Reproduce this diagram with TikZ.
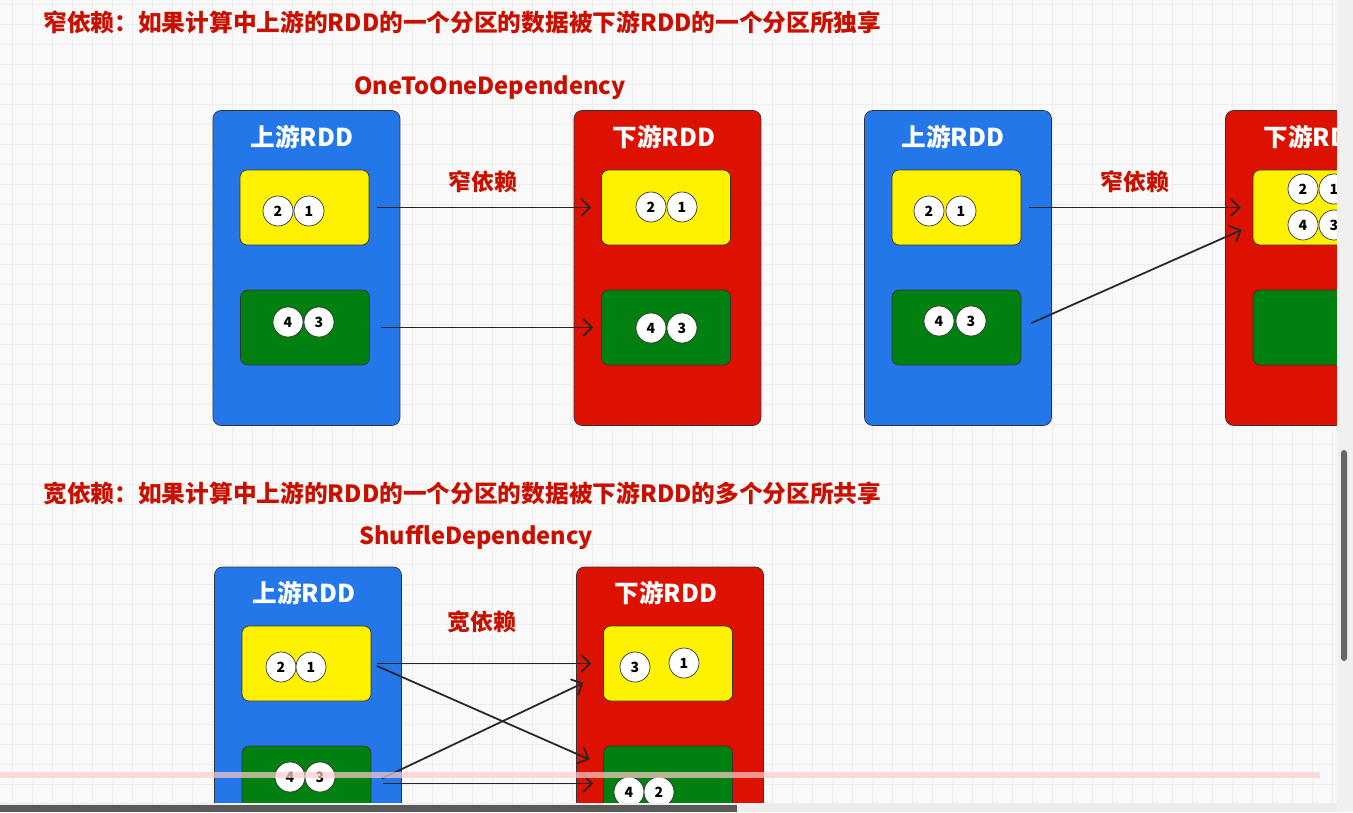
\documentclass[tikz,border=0pt]{standalone}
\usepackage{fontspec}
\usetikzlibrary{arrows.meta}
\newfontfamily\cjk{Noto Sans CJK SC}
\definecolor{rddblue}{RGB}{36,119,232}
\definecolor{rddred}{RGB}{221,17,0}
\definecolor{partyellow}{RGB}{255,242,0}
\definecolor{partgreen}{RGB}{0,128,16}
\definecolor{txtred}{RGB}{200,16,0}
\definecolor{canvas}{RGB}{249,249,249}
\definecolor{gridline}{RGB}{238,238,238}
\begin{document}
\begin{tikzpicture}[x=0.02cm, y=-0.02cm, every node/.style={font=\cjk\bfseries},
  rdd/.style={draw=black!80, rounded corners=0.16cm, minimum width=3.74cm, minimum height=6.3cm, inner sep=0pt},
  part/.style={draw=black!80, rounded corners=0.14cm, minimum width=2.58cm, minimum height=1.5cm, inner sep=0pt},
  rec/.style={draw=black!80, circle, fill=white, minimum size=0.6cm, inner sep=0pt, font=\cjk\bfseries\fontsize{8}{8}\selectfont},
  rddname/.style={text=white, inner sep=0pt, font=\cjk\bfseries\fontsize{14}{14}\selectfont},
  head/.style={text=txtred, anchor=west, inner sep=0pt, font=\cjk\bfseries\fontsize{13.5}{13.5}\selectfont},
  depname/.style={text=txtred, anchor=west, inner sep=0pt, font=\cjk\bfseries\fontsize{13.4}{13.4}\selectfont},
  deplbl/.style={text=txtred, inner sep=0pt, font=\cjk\bfseries\fontsize{13}{13}\selectfont},
  dep/.style={draw=black!85, line width=1pt, -{Straight Barb[length=5pt,width=10pt]}}]

\useasboundingbox (0,0) rectangle (1353,812);

\begin{scope}
\clip (0,0) rectangle (1337,803);
\fill[canvas] (0,0) rectangle (1337,803);
\foreach \gx in {12,32,...,1332} \draw[gridline] (\gx,0) -- (\gx,803);
\foreach \gy in {4,24,...,800} \draw[gridline] (0,\gy) -- (1337,\gy);

% narrow dependency
\node[head] (t1) at (43,22) {窄依赖：如果计算中上游的RDD的一个分区的数据被下游RDD的一个分区所独享};
\node[depname] (o1) at (354,88) {OneToOneDependency};

\node[rdd, fill=rddblue] (u1) at (306.5,268) {}; \node[rddname] (u1t) at (302,137) {上游RDD};
\node[part, fill=partyellow] (u1y) at (304.5,207.5) {};
\node[part, fill=partgreen] (u1g) at (305,327.5) {};
\node[rec] (a1) at (278,211) {2}; \node[rec] (a2) at (309,211) {1};
\node[rec] (a3) at (288,322) {4}; \node[rec] (a4) at (319,322) {3};

\node[rdd, fill=rddred] (d1) at (667.5,268) {}; \node[rddname] (d1t) at (664,137) {下游RDD};
\node[part, fill=partyellow] (d1y) at (666,207.5) {};
\node[part, fill=partgreen] (d1g) at (666,327.5) {};
\node[rec] (b1) at (651,207) {2}; \node[rec] (b2) at (682,207) {1};
\node[rec] (b3) at (651,328) {4}; \node[rec] (b4) at (682,328) {3};

\node[deplbl] (n1) at (483,182) {窄依赖};
\draw[dep, shorten <=0.16cm, shorten >=0.2cm] (u1y) -- (d1y);
\draw[dep, shorten <=0.22cm, shorten >=0.16cm] (u1g) -- (d1g);

\node[rdd, fill=rddblue] (u2) at (958,268) {}; \node[rddname] (u2t) at (953,137) {上游RDD};
\node[part, fill=partyellow] (u2y) at (956.5,207.5) {};
\node[part, fill=partgreen] (u2g) at (956.5,327.5) {};
\node[rec] (c1) at (929,211) {2}; \node[rec] (c2) at (961,211) {1};
\node[rec] (c3) at (939,321) {4}; \node[rec] (c4) at (971,321) {3};

\node[rdd, fill=rddred] (d2) at (1319,268) {}; \node[rddname] (d2t) at (1315,137) {下游RDD};
\node[part, fill=partyellow] (d2y) at (1317.5,207.5) {};
\node[part, fill=partgreen] (d2g) at (1317.5,327.5) {};
\node[rec] (e1) at (1303,189) {2}; \node[rec] (e2) at (1334,189) {1};
\node[rec] (e3) at (1303,225) {4}; \node[rec] (e4) at (1334,225) {3};

\node[deplbl] (n2) at (1135,182) {窄依赖};
\draw[dep, shorten <=0.16cm, shorten >=0.24cm] (u2y) -- (d2y);
\draw[dep, shorten <=0.22cm, shorten >=0.24cm] (u2g.east) -- ([yshift=-0.35cm]d2y.west);

% wide dependency
\node[head] (t2) at (43,493) {宽依赖：如果计算中上游的RDD的一个分区的数据被下游RDD的多个分区所共享};
\node[depname] (o2) at (359,537) {ShuffleDependency};

\node[rdd, fill=rddblue] (u3) at (308,724.5) {}; \node[rddname] (u3t) at (304,593) {上游RDD};
\node[part, fill=partyellow] (u3y) at (306.5,663.5) {};
\node[part, fill=partgreen] (u3g) at (306.5,783.5) {};
\node[rec] (f1) at (281,667) {2}; \node[rec] (f2) at (311,667) {1};
\node[rec] (f3) at (290,777) {4}; \node[rec] (f4) at (320,777) {3};

\node[rdd, fill=rddred] (d3) at (670,724.5) {}; \node[rddname] (d3t) at (666,593) {下游RDD};
\node[part, fill=partyellow] (d3y) at (668,663.5) {};
\node[part, fill=partgreen] (d3g) at (668,783.5) {};
\node[rec] (g1) at (635,667) {3}; \node[rec] (g2) at (684,663) {1};
\node[rec] (g3) at (629,792) {4}; \node[rec] (g4) at (659,792) {2};

\node[deplbl] (n3) at (482,622) {宽依赖};
\draw[dep, shorten <=0.12cm, shorten >=0.24cm] (u3y) -- (d3y);
\draw[dep, shorten <=0.12cm, shorten >=0.3cm] (u3y.east) -- ([yshift=0.36cm]d3g.west);
\draw[dep, shorten <=0.24cm, shorten >=0.44cm] (u3g.east) -- ([yshift=-0.2cm]d3y.west);
\draw[dep, shorten <=0.24cm, shorten >=0.2cm] (u3g) -- (d3g);
\end{scope}

\fill[pink!80, opacity=0.7] (0,772) rectangle (1320,778);
\fill[black!6] (1337,0) rectangle (1353,812);
\fill[black!60, rounded corners=0.06cm] (1341,450) rectangle (1347,661);
\fill[black!7] (0,803) rectangle (1337,812);
\fill[black!65] (0,805) rectangle (737,812);
\end{tikzpicture}
\end{document}
